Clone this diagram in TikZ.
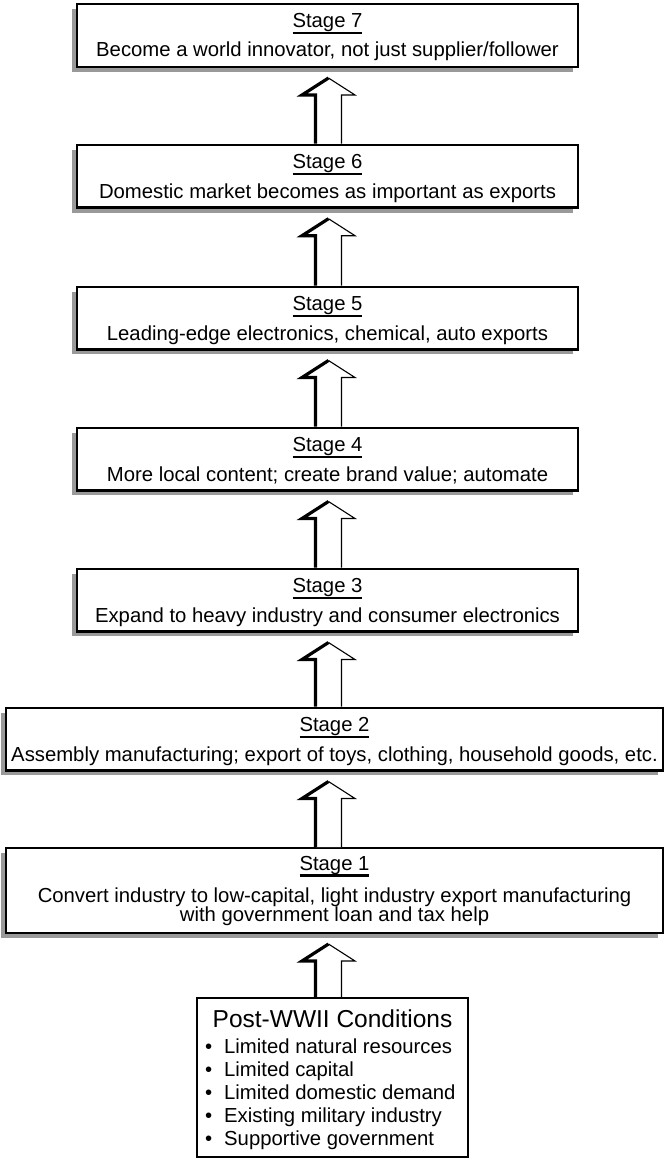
\documentclass[tikz,border=0pt]{standalone}
\usepackage{fontspec}
\setmainfont{Liberation Sans}
\usetikzlibrary{calc}
\definecolor{shadowgray}{gray}{0.6}
\newcommand\stul[1]{\setbox0\hbox{#1}\rlap{\raisebox{-6.5pt}{\rule{\wd0}{2.2pt}}}\box0}
\newcommand\uparr[2]{%
  \coordinate (ab) at (#1.north -| ax);
  \coordinate (at) at ($(#2.south -| ax)+(0,10)$);
  \fill[white] ($(ab)+(-13,0)$) -- ($(at)+(-13,17)$) -- ($(at)+(-26.5,17)$) -- (at) -- ($(at)+(26.5,17)$) -- ($(at)+(13,17)$) -- ($(ab)+(13,0)$) -- cycle;
  \draw[arrthick] ($(ab)+(-13,0)$) -- ($(at)+(-13,17)$) -- ($(at)+(-26.5,17)$) -- (at);
  \draw[arrthin] (at) -- ($(at)+(26.5,17)$) -- ($(at)+(13,17)$) -- ($(ab)+(13,0)$);
}
\begin{document}
\begin{tikzpicture}[x=1pt,y=-1pt,
  stagebox/.style={draw=black, line width=2.3pt, fill=white, inner sep=0pt,
    preaction={fill=shadowgray, transform canvas={shift={(-5pt,-5pt)}}}},
  condbox/.style={draw=black, line width=2.2pt, fill=white, inner sep=0pt},
  stxt/.style={anchor=base, inner sep=0pt, font=\fontsize{20.3}{24}\selectfont},
  ttl/.style={anchor=base, inner sep=0pt, font=\fontsize{24.5}{28}\selectfont},
  blt/.style={anchor=base west, inner sep=0pt, font=\fontsize{20.3}{23}\selectfont, align=left},
  arrthick/.style={line width=3.2pt, line join=miter},
  arrthin/.style={line width=1.1pt, line join=miter}]
\useasboundingbox (0,0) rectangle (669,1161);
\coordinate (ax) at (328.5,0);
% boxes
\node[stagebox, minimum width=500.7, minimum height=62.7] (s7) at (327.5,35.5) {};
\node[stagebox, minimum width=500.7, minimum height=62.7] (s6) at (327.5,176.2) {};
\node[stagebox, minimum width=500.7, minimum height=62.7] (s5) at (327.5,318) {};
\node[stagebox, minimum width=500.7, minimum height=62.7] (s4) at (327.5,459) {};
\node[stagebox, minimum width=500.7, minimum height=62.7] (s3) at (327.5,600) {};
\node[stagebox, minimum width=656.7, minimum height=62.7] (s2) at (334.5,739) {};
\node[stagebox, minimum width=656.7, minimum height=84.7] (s1) at (334.5,890.5) {};
\node[condbox, minimum width=271, minimum height=159] (pw) at (332.5,1077.5) {};
% texts
\node[stxt] (s7t) at (327.5,27.5) {\stul{Stage 7}};
\node[stxt] (s7d) at (327.5,56.5) {Become a world innovator, not just supplier/follower};
\node[stxt] (s6t) at (327.5,168.5) {\stul{Stage 6}};
\node[stxt] (s6d) at (327.5,198) {Domestic market becomes as important as exports};
\node[stxt] (s5t) at (327.5,310.5) {\stul{Stage 5}};
\node[stxt] (s5d) at (327.5,340) {Leading-edge electronics, chemical, auto exports};
\node[stxt] (s4t) at (327.5,451.5) {\stul{Stage 4}};
\node[stxt] (s4d) at (327.5,481) {More local content; create brand value; automate};
\node[stxt] (s3t) at (327.5,592.5) {\stul{Stage 3}};
\node[stxt] (s3d) at (327.5,622) {Expand to heavy industry and consumer electronics};
\node[stxt] (s2t) at (334.5,731.5) {\stul{Stage 2}};
\node[stxt] (s2d) at (334.5,761) {Assembly manufacturing; export of toys, clothing, household goods, etc.};
\node[stxt] (s1t) at (334.5,870) {\stul{Stage 1}};
\node[stxt] (s1d) at (334.5,902) {Convert industry to low-capital, light industry export manufacturing};
\node[stxt] (s1e) at (334.5,921) {with government loan and tax help};
\node[ttl] (pwt) at (332.5,1027) {Post-WWII Conditions};
\node[blt] (pwb) at (205,1145) {\makebox[19pt][l]{•}Limited natural resources\\
\makebox[19pt][l]{•}Limited capital\\
\makebox[19pt][l]{•}Limited domestic demand\\
\makebox[19pt][l]{•}Existing military industry\\
\makebox[19pt][l]{•}Supportive government};
% arrows
\uparr{s6}{s7}
\uparr{s5}{s6}
\uparr{s4}{s5}
\uparr{s3}{s4}
\uparr{s2}{s3}
\uparr{s1}{s2}
\uparr{pw}{s1}
\end{tikzpicture}
\end{document}
